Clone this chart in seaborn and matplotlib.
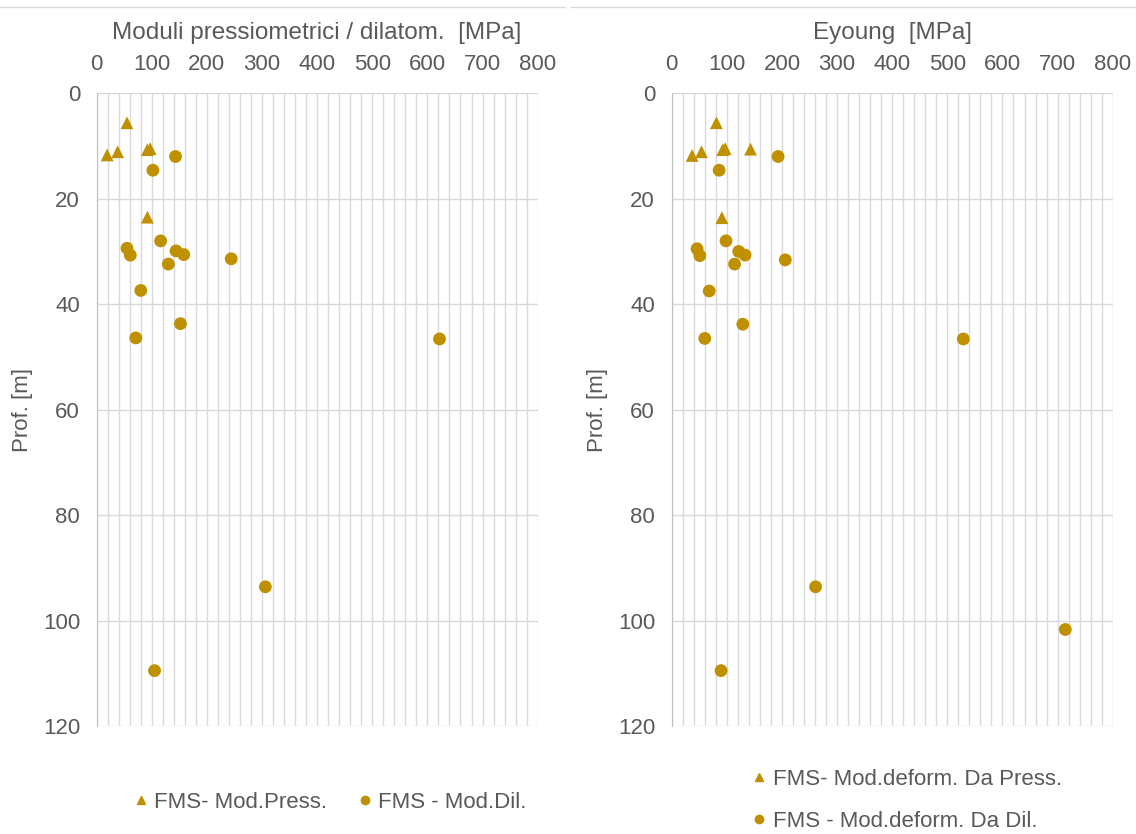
import pandas as pd
import seaborn as sns
import matplotlib.pyplot as plt
from matplotlib.ticker import MultipleLocator
from matplotlib.lines import Line2D

# --- data (modulus MPa, depth m) ---
press_mod = [55, 19, 38, 92, 97, 92]
press_depth = [5.6, 11.7, 11.1, 10.7, 10.5, 23.5]

dil_mod = [143, 102, 116, 55, 61, 144, 158, 130, 244, 80, 152, 71, 622, 306, 105]
dil_depth = [12.0, 14.6, 28.0, 29.4, 30.7, 29.9, 30.6, 32.4, 31.4, 37.4, 43.7, 46.4, 46.6, 93.6, 109.5]

ey_press_mod = [81, 37, 54, 92.5, 97, 143, 91]
ey_press_depth = [5.6, 11.8, 11.1, 10.7, 10.5, 10.6, 23.6]

ey_dil_mod = [193, 86, 98.5, 46, 51, 121.5, 133, 114, 206, 68, 129, 60, 529, 261, 89.5, 714]
ey_dil_depth = [12.0, 14.6, 28.0, 29.5, 30.8, 30.0, 30.7, 32.4, 31.6, 37.5, 43.8, 46.5, 46.6, 93.6, 109.5, 101.7]

left_labels = ["FMS- Mod.Press.", "FMS - Mod.Dil."]
right_labels = ["FMS- Mod.deform. Da Press.", "FMS - Mod.deform. Da Dil."]
titles = ["Moduli pressiometrici / dilatom.  [MPa]", "Eyoung  [MPa]"]

GOLD = "#BF9000"
TXT = "#595959"
GRID = "#D9D9D9"


def make_df(m1, d1, m2, d2, labels):
    a = pd.DataFrame({"mod": m1, "depth": d1, "serie": labels[0]})
    b = pd.DataFrame({"mod": m2, "depth": d2, "serie": labels[1]})
    return pd.concat([a, b], ignore_index=True)


sns.set_style("white")
plt.rcParams["font.family"] = ["Liberation Sans", "DejaVu Sans"]

fig = plt.figure(figsize=(11.36, 8.34), dpi=100)
ax1 = fig.add_axes([0.0851, 0.1295, 0.3882, 0.7587])
ax2 = fig.add_axes([0.5913, 0.1295, 0.3882, 0.7587])

dfs = [
    make_df(press_mod, press_depth, dil_mod, dil_depth, left_labels),
    make_df(ey_press_mod, ey_press_depth, ey_dil_mod, ey_dil_depth, right_labels),
]
label_sets = [left_labels, right_labels]

for ax, df, labels, title in zip([ax1, ax2], dfs, label_sets, titles):
    sns.scatterplot(
        data=df, x="mod", y="depth", hue="serie", style="serie",
        markers={labels[0]: "^", labels[1]: "o"},
        palette={labels[0]: GOLD, labels[1]: GOLD},
        s=85, linewidth=0, ax=ax, zorder=3, clip_on=False,
    )
    ax.set_xlim(0, 800)
    ax.set_ylim(120, 0)
    ax.xaxis.set_major_locator(MultipleLocator(100))
    ax.xaxis.set_minor_locator(MultipleLocator(20))
    ax.yaxis.set_major_locator(MultipleLocator(20))
    ax.xaxis.tick_top()
    ax.xaxis.set_label_position("top")
    ax.grid(True, which="both", axis="x", color=GRID, lw=1.0)
    ax.grid(True, which="major", axis="y", color=GRID, lw=1.0)
    ax.set_axisbelow(True)
    for side in ["top", "right", "bottom"]:
        ax.spines[side].set_visible(False)
    ax.spines["left"].set_color("#BFBFBF")
    ax.tick_params(axis="x", which="both", length=0, pad=13, labelsize=16, labelcolor=TXT)
    ax.tick_params(axis="y", length=0, pad=12, labelsize=16, labelcolor=TXT)
    ax.set_xlabel(title, fontsize=17.5, color=TXT, labelpad=11)
    ax.set_ylabel("Prof. [m]", fontsize=16, color=TXT, labelpad=7)
    ax.get_legend().remove()

# legends below each chart
h1 = [Line2D([], [], marker="^", ls="", color=GOLD, ms=6),
      Line2D([], [], marker="o", ls="", color=GOLD, ms=6)]
fig.legend(h1, left_labels, loc="center", bbox_to_anchor=(0.291, 0.038),
           ncol=2, frameon=False, fontsize=16, handlelength=0.6,
           handletextpad=0.3, columnspacing=1.4, labelcolor=TXT)
fig.legend(h1, right_labels, loc="center left", bbox_to_anchor=(0.645, 0.04),
           ncol=1, frameon=False, fontsize=16, handlelength=0.6,
           handletextpad=0.3, labelspacing=0.95, labelcolor=TXT)

# thin chart-area border lines at the top
fig.add_artist(Line2D([0, 0.497], [0.9916, 0.9916], color=GRID, lw=1))
fig.add_artist(Line2D([0.503, 1], [0.9916, 0.9916], color=GRID, lw=1))

fig.savefig("out.png", dpi=100)
